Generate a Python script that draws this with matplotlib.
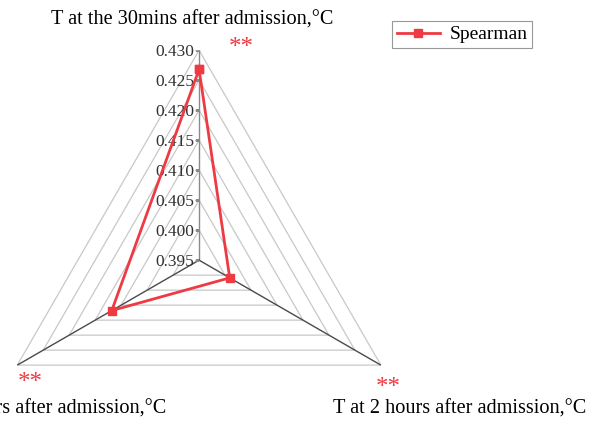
import numpy as np
import matplotlib
matplotlib.use("Agg")
import matplotlib.pyplot as plt
from matplotlib.transforms import offset_copy

plt.rcParams['font.family'] = ['Liberation Serif', 'DejaVu Serif']

# data
categories = ["T at the 30mins after admission,\u00b0C",
              "T at 2 hours after admission,\u00b0C",
              "T at 6 hours after admission,\u00b0C"]
spearman = [0.4268, 0.4009, 0.4118]
ticks = [0.395, 0.400, 0.405, 0.410, 0.415, 0.420, 0.425, 0.430]
signif = ["**", "**", "**"]

red = '#ee3a43'

fig = plt.figure(figsize=(6.06, 4.22), dpi=100)
ax = fig.add_axes([-0.018, -0.114, 0.693, 0.995], projection='polar')
ax.set_theta_offset(np.pi / 2)
ax.set_theta_direction(-1)
ax.set_ylim(ticks[0], ticks[-1])
ax.grid(False)
ax.spines['polar'].set_visible(False)
ax.set_xticks([])
ax.set_yticks([])
ax.patch.set_visible(False)

angles = np.arange(len(categories)) * 2 * np.pi / len(categories)
closed = np.append(angles, angles[0])

# polygon gridlines
for t in ticks[1:]:
    ax.plot(closed, [t] * len(closed), color='#c8c8c8', lw=0.9, zorder=1)

# spokes
for i, a in enumerate(angles):
    ax.plot([a, a], [ticks[0], ticks[-1]], color='#8a8a8a' if i == 0 else '#4a4a4a',
            lw=1.0, zorder=2)

# radial tick labels along the top spoke
lbl_tr = offset_copy(ax.transData, fig=fig, x=-5, y=-2, units='dots')
for t in ticks:
    ax.text(0, t, f"{t:.3f}", transform=lbl_tr, ha='right', va='center',
            fontsize=12.5, color='#333333')
    ax.plot([0], [t], marker=0, markersize=3, color='#8a8a8a', zorder=2)

# series
vals = spearman + spearman[:1]
ax.plot(closed, vals, color=red, lw=2, marker='s', markersize=6,
        label='Spearman', zorder=3, clip_on=False)

# category labels and significance marks
fs = 14.6
fig.text(192 / 606, 1 - 20 / 422, categories[0], ha='center', va='center', fontsize=fs)
fig.text(460 / 606, 1 - 409 / 422, categories[1], ha='center', va='center', fontsize=fs)
fig.text(40 / 606, 1 - 409 / 422, categories[2], ha='center', va='center', fontsize=fs)

star_pos = [(241, 48), (388, 388), (30, 383)]
for s, (px, py) in zip(signif, star_pos):
    fig.text(px / 606, 1 - py / 422, s, ha='center', va='center', fontsize=18, color=red)

leg = fig.legend(loc='upper left', bbox_to_anchor=(392 / 606, 1 - 21 / 422),
                 borderaxespad=0, fancybox=False, edgecolor='#7f7f7f',
                 fontsize=14, handlelength=2.2, borderpad=0.25, handletextpad=0.5)
leg.get_frame().set_linewidth(0.8)

fig.savefig("out.png", dpi=100)
